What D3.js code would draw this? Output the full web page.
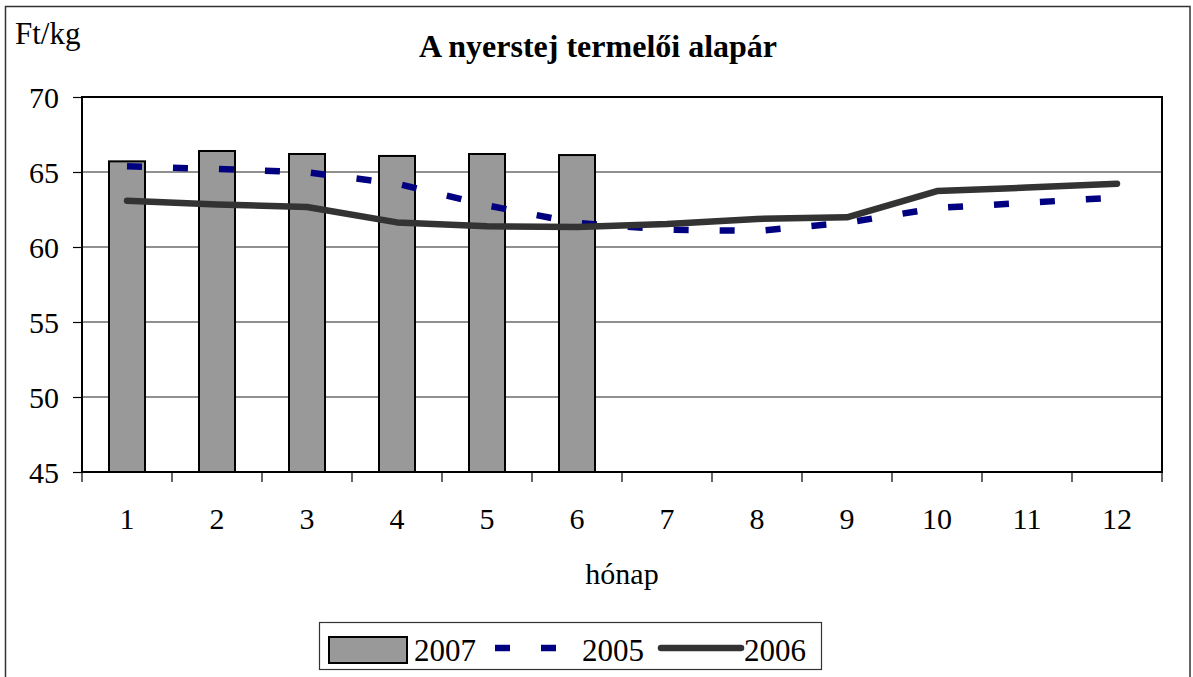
<!DOCTYPE html>
<html>
<head>
<meta charset="utf-8">
<script src="https://cdn.jsdelivr.net/npm/d3@7"></script>
<style>
  body { margin: 0; background: #fff; }
  text { font-family: "Liberation Serif", "Times New Roman", serif; fill: #000; }
</style>
</head>
<body>
<div id="chart"></div>
<script>
var months = ["1", "2", "3", "4", "5", "6", "7", "8", "9", "10", "11", "12"];
var v2007 = [65.71, 66.4, 66.2, 66.07, 66.2, 66.13];
var v2005 = [65.38, 65.2, 64.98, 64.22, 62.78, 61.6, 61.16, 61.07, 61.62, 62.6, 62.95, 63.3];
var v2006 = [63.09, 62.84, 62.67, 61.64, 61.38, 61.33, 61.53, 61.87, 61.98, 63.73, 63.96, 64.22];
var yTicks = [45, 50, 55, 60, 65, 70];

var width = 1193,
    height = 677,
    pLeft = 82, pRight = 1162, pTop = 97, pBottom = 472;

var svg = d3.select("#chart")
    .append("svg")
    .attr("width", width)
    .attr("height", height);

// outer frame
svg.append("rect")
    .attr("x", 5.5).attr("y", 6.5)
    .attr("width", 1184.5).attr("height", 700)
    .attr("fill", "none")
    .attr("stroke", "#333")
    .attr("stroke-width", 1.5);

var x = d3.scaleBand()
    .domain(months)
    .range([pLeft, pRight]);

var y = d3.scaleLinear()
    .domain([45, 70])
    .range([pBottom, pTop]);

var cx = function (d, i) { return x(months[i]) + x.bandwidth() / 2; };

/* ------- GRID -------*/
svg.append("g")
    .selectAll("line")
    .data(yTicks.slice(1, -1))
    .enter().append("line")
    .attr("x1", pLeft).attr("x2", pRight)
    .attr("y1", function (d) { return y(d); })
    .attr("y2", function (d) { return y(d); })
    .attr("stroke", "#222")
    .attr("stroke-width", 1.1);

/* ------- BARS -------*/
var barW = 36;
svg.append("g")
    .selectAll("rect")
    .data(v2007)
    .enter().append("rect")
    .attr("x", function (d, i) { return cx(d, i) - barW / 2; })
    .attr("y", function (d) { return y(d); })
    .attr("width", barW)
    .attr("height", function (d) { return y(45) - y(d); })
    .attr("fill", "#999999")
    .attr("stroke", "#000")
    .attr("stroke-width", 2);

/* ------- LINES -------*/
var line = d3.line()
    .x(function (d, i) { return cx(d, i); })
    .y(function (d) { return y(d); });

svg.append("path")
    .datum(v2005)
    .attr("d", line)
    .attr("fill", "none")
    .attr("stroke", "#000080")
    .attr("stroke-width", 6.5)
    .attr("stroke-dasharray", "15,31");

svg.append("path")
    .datum(v2006)
    .attr("d", line)
    .attr("fill", "none")
    .attr("stroke", "#333333")
    .attr("stroke-width", 6.5)
    .attr("stroke-linecap", "round")
    .attr("stroke-linejoin", "round");

/* ------- AXES -------*/
svg.append("rect")
    .attr("x", pLeft).attr("y", pTop)
    .attr("width", pRight - pLeft).attr("height", pBottom - pTop)
    .attr("fill", "none")
    .attr("stroke", "#000")
    .attr("stroke-width", 2);

var yAxis = svg.append("g")
    .attr("transform", "translate(" + pLeft + ",0)")
    .call(d3.axisLeft(y).tickValues(yTicks).tickSize(9).tickPadding(14))
    .attr("font-family", null)
    .attr("font-size", null);
yAxis.select(".domain").remove();
yAxis.selectAll("line").attr("stroke", "#000").attr("stroke-width", 1.2);
yAxis.selectAll("text")
    .style("font-family", "'Liberation Serif', 'Times New Roman', serif")
    .style("font-size", "30px")
    .attr("fill", "#000")
    .attr("dy", "0.34em");

var edges = months.map(function (m) { return x(m); }).concat([pRight]);
svg.append("g")
    .selectAll("line")
    .data(edges)
    .enter().append("line")
    .attr("x1", function (d) { return d; }).attr("x2", function (d) { return d; })
    .attr("y1", pBottom).attr("y2", pBottom + 10)
    .attr("stroke", "#000")
    .attr("stroke-width", 1.2);

svg.append("g")
    .selectAll("text")
    .data(months)
    .enter().append("text")
    .attr("x", function (d) { return x(d) + x.bandwidth() / 2; })
    .attr("y", 529)
    .attr("text-anchor", "middle")
    .style("font-size", "30px")
    .text(function (d) { return d; });

svg.append("text")
    .attr("x", (pLeft + pRight) / 2)
    .attr("y", 584)
    .attr("text-anchor", "middle")
    .style("font-size", "30px")
    .text("hónap");

svg.append("text")
    .attr("x", 15)
    .attr("y", 44)
    .style("font-size", "31px")
    .text("Ft/kg");

svg.append("text")
    .attr("x", 598)
    .attr("y", 57)
    .attr("text-anchor", "middle")
    .style("font-size", "32px")
    .style("font-weight", "bold")
    .text("A nyerstej termelői alapár");

/* ------- LEGEND -------*/
var legend = svg.append("g");
legend.append("rect")
    .attr("x", 319.5).attr("y", 622.5)
    .attr("width", 502).attr("height", 47)
    .attr("fill", "#fff")
    .attr("stroke", "#333")
    .attr("stroke-width", 1.2);

legend.append("rect")
    .attr("x", 329).attr("y", 637)
    .attr("width", 78).attr("height", 26)
    .attr("fill", "#999999")
    .attr("stroke", "#000")
    .attr("stroke-width", 2);
legend.append("text")
    .attr("x", 414).attr("y", 661)
    .style("font-size", "31px")
    .text("2007");

legend.append("line")
    .attr("x1", 495).attr("x2", 572)
    .attr("y1", 648).attr("y2", 648)
    .attr("stroke", "#000080")
    .attr("stroke-width", 6.5)
    .attr("stroke-dasharray", "15,31");
legend.append("text")
    .attr("x", 582).attr("y", 661)
    .style("font-size", "31px")
    .text("2005");

legend.append("line")
    .attr("x1", 661).attr("x2", 741)
    .attr("y1", 648).attr("y2", 648)
    .attr("stroke", "#333333")
    .attr("stroke-width", 6.5)
    .attr("stroke-linecap", "round");
legend.append("text")
    .attr("x", 744).attr("y", 661)
    .style("font-size", "31px")
    .text("2006");
</script>
</body>
</html>
